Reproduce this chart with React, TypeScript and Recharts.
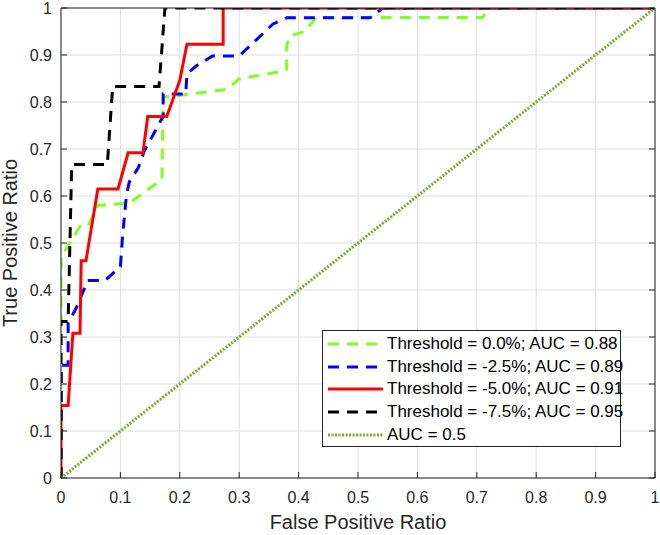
import { LineChart, Line, XAxis, YAxis, CartesianGrid, Legend } from "recharts";

type Pt = { x: number; y: number };

// axis ticks (shared by x and y)
const ticks = [0, 0.1, 0.2, 0.3, 0.4, 0.5, 0.6, 0.7, 0.8, 0.9, 1];
const tickLabels = ["0", "0.1", "0.2", "0.3", "0.4", "0.5", "0.6", "0.7", "0.8", "0.9", "1"];

// ROC points: x = false positive ratio, y = true positive ratio
const thr00: Pt[] = [
  { x: 0, y: 0 }, { x: 0, y: 0.47 }, { x: 0.032, y: 0.535 }, { x: 0.045, y: 0.535 },
  { x: 0.062, y: 0.58 }, { x: 0.115, y: 0.585 }, { x: 0.17, y: 0.635 }, { x: 0.172, y: 0.81 },
  { x: 0.205, y: 0.815 }, { x: 0.28, y: 0.827 }, { x: 0.3, y: 0.849 }, { x: 0.375, y: 0.866 },
  { x: 0.38, y: 0.87 }, { x: 0.38, y: 0.92 }, { x: 0.385, y: 0.94 }, { x: 0.41, y: 0.95 },
  { x: 0.43, y: 0.98 }, { x: 0.71, y: 0.98 }, { x: 0.72, y: 1 }, { x: 1, y: 1 },
];
const thr25: Pt[] = [
  { x: 0, y: 0 }, { x: 0, y: 0.24 }, { x: 0.012, y: 0.24 }, { x: 0.012, y: 0.33 },
  { x: 0.025, y: 0.36 }, { x: 0.045, y: 0.42 }, { x: 0.074, y: 0.42 }, { x: 0.1, y: 0.45 },
  { x: 0.104, y: 0.52 }, { x: 0.11, y: 0.6 }, { x: 0.115, y: 0.63 }, { x: 0.13, y: 0.66 },
  { x: 0.14, y: 0.695 }, { x: 0.155, y: 0.73 }, { x: 0.172, y: 0.77 }, { x: 0.172, y: 0.817 },
  { x: 0.21, y: 0.817 }, { x: 0.212, y: 0.86 }, { x: 0.228, y: 0.877 }, { x: 0.255, y: 0.898 },
  { x: 0.3, y: 0.898 }, { x: 0.357, y: 0.966 }, { x: 0.38, y: 0.979 }, { x: 0.52, y: 0.979 },
  { x: 0.542, y: 1 }, { x: 1, y: 1 },
];
const thr50: Pt[] = [
  { x: 0, y: 0 }, { x: 0, y: 0.154 }, { x: 0.012, y: 0.154 }, { x: 0.02, y: 0.308 },
  { x: 0.032, y: 0.308 }, { x: 0.034, y: 0.462 }, { x: 0.042, y: 0.462 }, { x: 0.062, y: 0.615 },
  { x: 0.096, y: 0.615 }, { x: 0.113, y: 0.692 }, { x: 0.138, y: 0.692 }, { x: 0.146, y: 0.769 },
  { x: 0.178, y: 0.769 }, { x: 0.2, y: 0.846 }, { x: 0.212, y: 0.923 }, { x: 0.273, y: 0.923 },
  { x: 0.273, y: 1 }, { x: 1, y: 1 },
];
const thr75: Pt[] = [
  { x: 0, y: 0 }, { x: 0, y: 0.333 }, { x: 0.012, y: 0.333 }, { x: 0.018, y: 0.667 },
  { x: 0.078, y: 0.667 }, { x: 0.087, y: 0.833 }, { x: 0.165, y: 0.833 }, { x: 0.175, y: 1 },
  { x: 1, y: 1 },
];
const chance: Pt[] = [{ x: 0, y: 0 }, { x: 1, y: 1 }];

const names = [
  "Threshold = 0.0%; AUC = 0.88",
  "Threshold = -2.5%; AUC = 0.89",
  "Threshold = -5.0%; AUC = 0.91",
  "Threshold = -7.5%; AUC = 0.95",
  "AUC = 0.5",
];

const font = "'Liberation Sans', Arial, sans-serif";
const ink = "#262626";

const legendItems = [
  { name: names[0], color: "#80ff20", dash: "11 8" },
  { name: names[1], color: "#0000ff", dash: "11 8" },
  { name: names[2], color: "#ff0000", dash: undefined },
  { name: names[3], color: "#000000", dash: "11 8" },
  { name: names[4], color: "#77ac30", dash: "2 1.5" },
];

function LeftTick(props: any) {
  const { x, y, index } = props;
  return (
    <g>
      <line x1={x} y1={y} x2={x + 6} y2={y} stroke={ink} />
      <text x={x - 9} y={y + 6} textAnchor="end" fontSize={16} fill={ink} fontFamily={font}>
        {tickLabels[index]}
      </text>
    </g>
  );
}

function BottomTick(props: any) {
  const { x, y, index } = props;
  return (
    <g>
      <line x1={x} y1={y} x2={x} y2={y - 6} stroke={ink} />
      <text x={x} y={y + 25} textAnchor="middle" fontSize={16} fill={ink} fontFamily={font}>
        {tickLabels[index]}
      </text>
    </g>
  );
}

function TopTick(props: any) {
  const { x, y } = props;
  return <line x1={x} y1={y} x2={x} y2={y + 6} stroke={ink} />;
}

function RightTick(props: any) {
  const { x, y } = props;
  return <line x1={x} y1={y} x2={x - 6} y2={y} stroke={ink} />;
}

function LegendBox() {
  return (
    <div
      style={{
        width: 299,
        height: 117,
        border: `1px solid ${ink}`,
        background: "#fff",
        boxSizing: "border-box",
        paddingTop: 2,
        fontFamily: font,
        fontSize: 17,
        color: "#000",
      }}
    >
      {legendItems.map((it) => (
        <div key={it.name} style={{ display: "flex", alignItems: "center", height: 22.6 }}>
          <svg width={60} height={10} style={{ marginLeft: 4, flex: "none" }}>
            <line x1={1} y1={5} x2={56} y2={5} stroke={it.color} strokeWidth={3} strokeDasharray={it.dash} />
          </svg>
          <span style={{ whiteSpace: "nowrap" }}>{it.name}</span>
        </div>
      ))}
    </div>
  );
}

export default function App() {
  return (
    <div style={{ position: "absolute", left: 0, top: 0, background: "#fff" }}>
      <LineChart width={660} height={535} margin={{ top: 7, right: 4, bottom: 0, left: 0 }}>
        <CartesianGrid xAxisId="b" yAxisId="l" stroke="#dedede" strokeWidth={1} />
        <XAxis
          xAxisId="b"
          type="number"
          dataKey="x"
          domain={[0, 1]}
          ticks={ticks}
          allowDataOverflow
          height={57}
          tickSize={0}
          tickMargin={0}
          tickLine={false}
          axisLine={{ stroke: ink }}
          tick={<BottomTick />}
          interval={0}
          label={{
            value: "False Positive Ratio",
            position: "insideBottom",
            offset: 6,
            style: { fontSize: 20, fill: ink, fontFamily: font },
          }}
        />
        <XAxis
          xAxisId="t"
          orientation="top"
          type="number"
          domain={[0, 1]}
          ticks={ticks}
          allowDataOverflow
          height={1}
          tickSize={0}
          tickMargin={0}
          tickLine={false}
          axisLine={{ stroke: ink }}
          tick={<TopTick />}
          interval={0}
        />
        <YAxis
          yAxisId="l"
          type="number"
          domain={[0, 1]}
          ticks={ticks}
          allowDataOverflow
          width={61}
          tickSize={0}
          tickMargin={0}
          tickLine={false}
          axisLine={{ stroke: ink }}
          tick={<LeftTick />}
          interval={0}
          label={{
            value: "True Positive Ratio",
            angle: -90,
            position: "insideLeft",
            offset: 10,
            style: { fontSize: 20, fill: ink, fontFamily: font, textAnchor: "middle" },
          }}
        />
        <YAxis
          yAxisId="r"
          orientation="right"
          type="number"
          domain={[0, 1]}
          ticks={ticks}
          allowDataOverflow
          width={1}
          tickSize={0}
          tickMargin={0}
          tickLine={false}
          axisLine={{ stroke: ink }}
          tick={<RightTick />}
          interval={0}
        />
        <Line
          xAxisId="b"
          yAxisId="l"
          data={thr00}
          dataKey="y"
          name={names[0]}
          type="linear"
          stroke="#80ff20"
          strokeWidth={3}
          strokeDasharray="11 8"
          dot={false}
          activeDot={false}
          isAnimationActive={false}
        />
        <Line
          xAxisId="b"
          yAxisId="l"
          data={thr25}
          dataKey="y"
          name={names[1]}
          type="linear"
          stroke="#0000ff"
          strokeWidth={3}
          strokeDasharray="11 8"
          dot={false}
          activeDot={false}
          isAnimationActive={false}
        />
        <Line
          xAxisId="b"
          yAxisId="l"
          data={thr50}
          dataKey="y"
          name={names[2]}
          type="linear"
          stroke="#ff0000"
          strokeWidth={3}
          dot={false}
          activeDot={false}
          isAnimationActive={false}
        />
        <Line
          xAxisId="b"
          yAxisId="l"
          data={thr75}
          dataKey="y"
          name={names[3]}
          type="linear"
          stroke="#000000"
          strokeWidth={3}
          strokeDasharray="11 8"
          dot={false}
          activeDot={false}
          isAnimationActive={false}
        />
        <Line
          xAxisId="b"
          yAxisId="l"
          data={chance}
          dataKey="y"
          name={names[4]}
          type="linear"
          stroke="#77ac30"
          strokeWidth={3}
          strokeDasharray="2 1.5"
          dot={false}
          activeDot={false}
          isAnimationActive={false}
        />
        <Legend
          layout="vertical"
          align="center"
          verticalAlign="middle"
          content={() => <LegendBox />}
          wrapperStyle={{ left: 322, top: 330, width: 299, height: 117 }}
        />
      </LineChart>
    </div>
  );
}
